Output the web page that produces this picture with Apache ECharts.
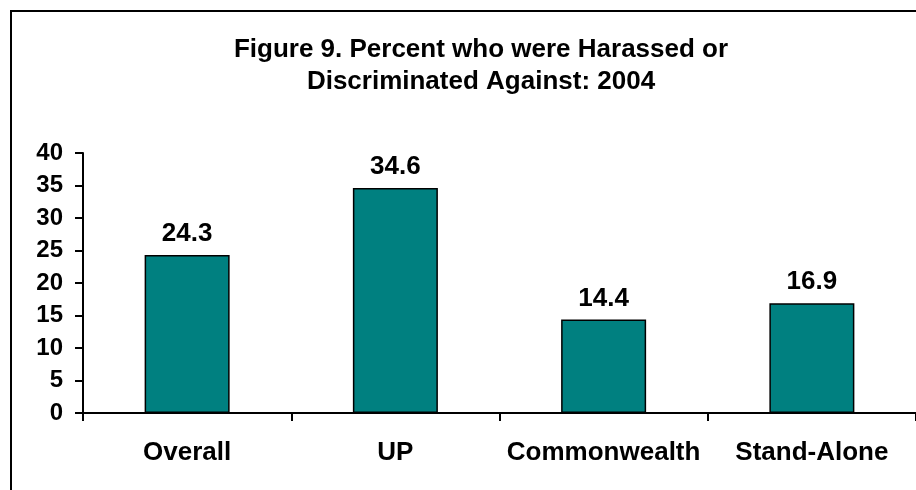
<!DOCTYPE html>
<html>
<head>
<meta charset="utf-8">
<script src="https://cdn.jsdelivr.net/npm/echarts@6/dist/echarts.min.js"></script>
<style>
html,body{margin:0;padding:0;background:#fff;}
#chart{width:916px;height:490px;}
</style>
</head>
<body>
<div id="chart"></div>
<script>
const titleLines = ["Figure 9. Percent who were Harassed or", "Discriminated Against: 2004"];
const categories = ["Overall", "UP", "Commonwealth", "Stand-Alone"];
const values = [24.3, 34.6, 14.4, 16.9];
const yTicks = { min: 0, max: 40, interval: 5 };

const FONT = "'Liberation Sans', Arial, sans-serif";
const chart = echarts.init(document.getElementById('chart'), null, { renderer: 'canvas' });
chart.setOption({
  animation: false,
  backgroundColor: '#ffffff',
  graphic: [{
    type: 'rect',
    shape: { x: 11, y: 11, width: 1000, height: 600 },
    style: { fill: 'none', stroke: '#000', lineWidth: 2 },
    silent: true,
    z: -1
  }],
  title: {
    text: titleLines.join('\n'),
    left: 476,
    top: 29,
    textAlign: 'center',
    textStyle: { fontFamily: FONT, fontWeight: 'bold', fontSize: 26, lineHeight: 32, color: '#000' }
  },
  grid: { left: 83, top: 153, width: 834.6, height: 260 },
  xAxis: {
    type: 'category',
    data: categories,
    boundaryGap: true,
    axisLine: { lineStyle: { color: '#000', width: 2 } },
    axisTick: { show: true, interval: 0, length: 8, lineStyle: { color: '#000', width: 2 } },
    axisLabel: { interval: 0, hideOverlap: false, margin: 27, fontFamily: FONT, fontWeight: 'bold', fontSize: 26, color: '#000' }
  },
  yAxis: {
    type: 'value',
    min: yTicks.min,
    max: yTicks.max,
    interval: yTicks.interval,
    splitLine: { show: false },
    axisLine: { show: true, lineStyle: { color: '#000', width: 2 } },
    axisTick: { show: true, length: 8, lineStyle: { color: '#000', width: 2 } },
    axisLabel: { margin: 20, fontFamily: FONT, fontWeight: 'bold', fontSize: 24, color: '#000' }
  },
  series: [{
    type: 'bar',
    data: values,
    barWidth: 85,
    itemStyle: { color: '#008080', borderColor: '#000', borderWidth: 1.5 },
    label: {
      show: true,
      position: 'top',
      distance: 8,
      formatter: p => p.value.toFixed(1),
      fontFamily: FONT, fontWeight: 'bold', fontSize: 26, color: '#000'
    }
  }]
});
</script>
</body>
</html>
